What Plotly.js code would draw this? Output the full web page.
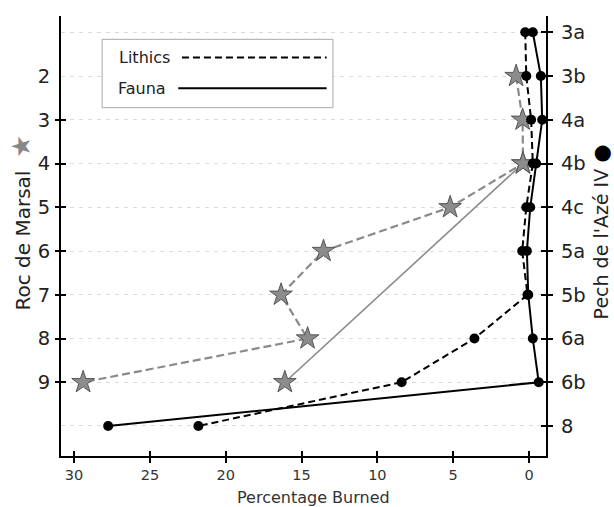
<!DOCTYPE html>
<html>
<head>
<meta charset="utf-8">
<script src="https://cdn.plot.ly/plotly-3.0.1.min.js"></script>
<style>html,body{margin:0;padding:0;background:#fff;}#chart{width:614px;height:507px;}</style>
</head>
<body>
<div id="chart"></div>
<script>
// Pech de l'Azé IV layers (right axis) and percentage burned
const pechLayers = ['3a', '3b', '4a', '4b', '4c', '5a', '5b', '6a', '6b', '8'];
const pechLithics = [0.25, 0.18, -0.14, -0.25, 0.18, 0.45, 0.1, 3.6, 8.4, 21.8];
const pechFauna = [-0.25, -0.78, -0.87, -0.47, -0.08, 0.14, 0.05, -0.25, -0.64, 27.75];

// Roc de Marsal layers (left axis) and percentage burned
const rocLayers = [2, 3, 4, 5, 6, 7, 8, 9];
const rocLithics = [0.85, 0.42, 0.4, 5.2, 13.55, 16.35, 14.6, 29.4];
const rocFaunaLayers = [4, 9];
const rocFauna = [0.4, 16.1];

const xTicks = [0, 5, 10, 15, 20, 25, 30];
const leftTickLabels = ['', '2', '3', '4', '5', '6', '7', '8', '9', ''];
const leftTickMarks = [3, 4, 5, 6, 7, 8, 9];

const pechPos = pechLayers.map((_, i) => i + 1);
const gridPos = leftTickLabels.map((_, i) => i + 1);

const FONT = 'DejaVu Sans, Verdana, sans-serif';
const xRange = [30.86, -1.12];
const yRange = [10.686, 0.627];

// invisible helper traces so that the tick-only overlay axes get drawn
function helper(xa, ya) {
  return {x: pechFauna, y: pechPos, xaxis: xa, yaxis: ya, mode: 'markers', type: 'scatter',
          marker: {opacity: 0, size: 1}, hoverinfo: 'skip'};
}

const traces = [
  {x: rocLithics, y: rocLayers, mode: 'lines+markers', type: 'scatter',
   line: {color: '#8a8a8a', width: 2.2, dash: '8px,4px'},
   marker: {symbol: 'star', size: 17, color: '#8c8c8c', line: {color: '#555', width: 1}}, hoverinfo: 'skip'},
  {x: rocFauna, y: rocFaunaLayers, mode: 'lines+markers', type: 'scatter',
   line: {color: '#8a8a8a', width: 1.6},
   marker: {symbol: 'star', size: 17, color: '#8c8c8c', line: {color: '#555', width: 1}}, hoverinfo: 'skip'},
  {x: pechLithics, y: pechPos, yaxis: 'y2', mode: 'lines+markers', type: 'scatter',
   line: {color: '#000', width: 2, dash: '7px,4px'},
   marker: {symbol: 'circle', size: 10, color: '#000'}, hoverinfo: 'skip'},
  {x: pechFauna, y: pechPos, yaxis: 'y2', mode: 'lines+markers', type: 'scatter',
   line: {color: '#000', width: 2},
   marker: {symbol: 'circle', size: 10, color: '#000'}, hoverinfo: 'skip'},
  helper('x2', 'y'), helper('x', 'y3'), helper('x', 'y4'), helper('x', 'y5')
];

const tickFontY = {family: FONT, size: 19.5, color: '#222'};
const tickOnly = (extra) => Object.assign({range: yRange, overlaying: 'y', anchor: 'x', ticklen: 5, tickwidth: 2,
  tickcolor: '#000', showticklabels: false, showline: false, showgrid: false, zeroline: false}, extra);

const layout = {
  width: 614, height: 507,
  margin: {l: 60.5, r: 67.5, t: 16, b: 51, pad: 0},
  paper_bgcolor: '#fff', plot_bgcolor: '#fff',
  showlegend: false,
  font: {family: FONT, color: '#222'},
  xaxis: {range: xRange, tickvals: xTicks, ticks: 'outside', ticklen: 5, tickwidth: 2, tickcolor: '#000',
          showline: true, linewidth: 2, linecolor: '#000', showgrid: false, zeroline: false,
          tickfont: {family: FONT, size: 14.5, color: '#333'}},
  xaxis2: {range: xRange, overlaying: 'x', anchor: 'y', side: 'bottom', tickvals: xTicks, ticks: 'inside',
           ticklen: 5, tickwidth: 2, tickcolor: '#000', showticklabels: false, showline: false,
           showgrid: false, zeroline: false},
  yaxis: {range: yRange, tickvals: gridPos, ticktext: leftTickLabels, ticks: 'outside', ticklen: 5,
          tickcolor: 'rgba(0,0,0,0)', showline: true, linewidth: 2, linecolor: '#000',
          showgrid: true, gridcolor: '#dcdcdc', griddash: '4px,5px', gridwidth: 1, zeroline: false,
          tickfont: tickFontY},
  yaxis3: tickOnly({side: 'left', tickvals: leftTickMarks, ticks: 'outside'}),
  yaxis4: tickOnly({side: 'left', tickvals: leftTickMarks, ticks: 'inside'}),
  yaxis2: {range: yRange, overlaying: 'y', anchor: 'x', side: 'right', tickvals: pechPos, ticktext: pechLayers,
           ticks: 'outside', ticklen: 5, tickwidth: 2, tickcolor: '#000', showline: true, linewidth: 2,
           linecolor: '#000', showgrid: false, zeroline: false, tickfont: tickFontY, ticklabelstandoff: 4},
  yaxis5: tickOnly({side: 'right', tickvals: pechPos, ticks: 'inside'}),
  shapes: [
    {type: 'rect', xref: 'paper', yref: 'paper', x0: 0.0848, x1: 0.5607, y0: 0.7916, y1: 0.947,
     line: {color: '#a8a8a8', width: 1}, fillcolor: '#fff', layer: 'above'},
    {type: 'line', xref: 'paper', yref: 'paper', x0: 0.2494, x1: 0.5477, y0: 0.9057, y1: 0.9057,
     line: {color: '#000', width: 2, dash: '7px,4px'}},
    {type: 'line', xref: 'paper', yref: 'paper', x0: 0.2418, x1: 0.5477, y0: 0.8357, y1: 0.8357,
     line: {color: '#000', width: 2}}
  ],
  annotations: [
    {text: 'Lithics', xref: 'paper', yref: 'paper', x: 0.1163, y: 0.9057, xanchor: 'left', yanchor: 'middle',
     showarrow: false, font: {family: FONT, size: 16, color: '#222'}},
    {text: 'Fauna', xref: 'paper', yref: 'paper', x: 0.1142, y: 0.8357, xanchor: 'left', yanchor: 'middle',
     showarrow: false, font: {family: FONT, size: 16, color: '#222'}},
    {text: 'Percentage Burned', xref: 'paper', yref: 'paper', x: 0.52, y: -0.095, xanchor: 'center', yanchor: 'middle',
     showarrow: false, font: {family: FONT, size: 16, color: '#333'}},
    {text: 'Roc de Marsal  <span style="color:#888;font-size:26px">★</span>', xref: 'paper', yref: 'paper',
     x: -0.083, y: 0.53, xanchor: 'center', yanchor: 'middle', textangle: -90, showarrow: false,
     font: {family: FONT, size: 20, color: '#222'}},
    {text: 'Pech de l\'Azé IV <span style="color:#000;font-size:21px">●</span>', xref: 'paper', yref: 'paper',
     x: 1.113, y: 0.51, xanchor: 'center', yanchor: 'middle', textangle: -90, showarrow: false,
     font: {family: FONT, size: 19, color: '#222'}}
  ]
};

Plotly.newPlot('chart', traces, layout, {staticPlot: true, displayModeBar: false});
</script>
</body>
</html>
